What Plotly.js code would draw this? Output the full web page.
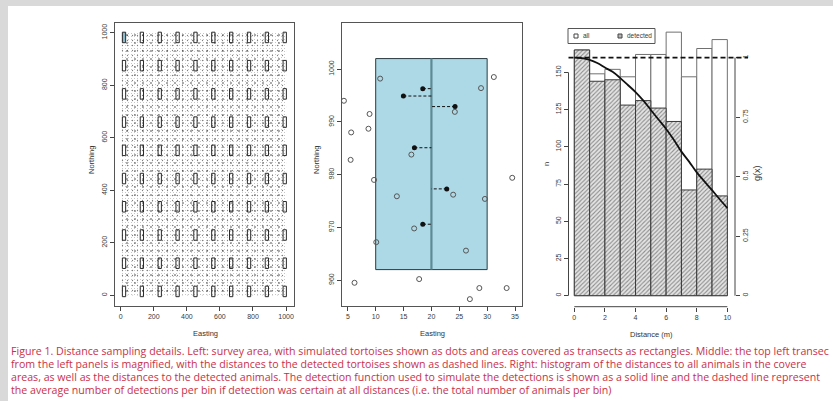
<!DOCTYPE html>
<html>
<head>
<meta charset="utf-8">
<script src="https://cdn.plot.ly/plotly-3.0.1.min.js"></script>
<style>
  html, body { margin: 0; padding: 0; background: #d9d9d9; }
  #chart { width: 833px; height: 401px; }
</style>
</head>
<body>
<div id="chart"></div>
<script>
// ---- Left panel: survey area with the grid of transects ----
const surveyX = [0, 1000];
const surveyY = [0, 1000];
const transectCentreX = [20, 128, 236, 344, 452, 560, 668, 776, 884, 992];
const transectCentreY = [982, 874.5, 767, 659.5, 552, 444.5, 337, 229.5, 122, 14.5];
const transectWidth = 20;
const transectHeight = 40;
const surveyTicks = [0, 200, 400, 600, 800, 1000];

// ---- Middle panel: the top left transect, magnified ----
const closeUpX = [10, 30];
const closeUpY = [962, 1002];
const centreLineX = 20;
const animalX = [10.8, 31.2, 28.9, 4.3, 24.2, 8.9, 8.7, 5.6, 16.4, 5.5, 9.7, 34.5, 23.9, 13.8, 29.6, 16.9, 10.1, 26.2, 6.2, 17.8, 28.6, 33.5, 26.9];
const animalY = [998.2, 998.5, 996.4, 994.0, 991.9, 991.5, 988.7, 988.0, 983.8, 982.8, 979.0, 979.4, 976.2, 975.9, 975.4, 969.8, 967.2, 965.6, 959.5, 960.2, 958.5, 958.5, 956.4];
const detectedX = [18.45, 14.97, 24.24, 16.95, 22.75, 18.45];
const detectedY = [996.3, 994.9, 992.9, 985.1, 977.3, 970.6];
const closeUpXTicks = [5, 10, 15, 20, 25, 30, 35];
const closeUpYTicks = [960, 970, 980, 990, 1000];

// ---- Right panel: distance histogram and detection function ----
const binLeft = [0, 1, 2, 3, 4, 5, 6, 7, 8, 9];
const binWidth = 1;
const allCounts = [165, 149, 152, 147, 162, 162, 177, 147, 166, 172];
const detectedCounts = [165, 144, 145, 128, 131, 126, 117, 71, 85, 67];
const gDistance = [0, 0.5, 1, 1.5, 2, 2.5, 3, 3.5, 4, 4.5, 5, 5.5, 6, 6.5, 7, 7.5, 8, 8.5, 9, 9.5, 10];
const gValue = [1.0, 0.998, 0.99, 0.977, 0.958, 0.94, 0.914, 0.885, 0.855, 0.82, 0.78, 0.74, 0.70, 0.655, 0.605, 0.563, 0.518, 0.48, 0.443, 0.405, 0.368];
const distanceTicks = [0, 2, 4, 6, 8, 10];
const countTicks = [0, 25, 50, 75, 100, 125, 150];
const gTicks = [0, 0.25, 0.5, 0.75, 1];
const gTickText = ['0', '0.25', '0.5', '0.75', '1'];

// caption, as far as it shows on the page
const caption = [
  'Figure 1. Distance sampling details. Left: survey area, with simulated tortoises shown as dots and areas covered as transects as rectangles. Middle: the top left transec',
  'from the left panels is magnified, with the distances to the detected tortoises shown as dashed lines. Right: histogram of the distances to all animals in the covere',
  'areas, as well as the distances to the detected animals. The detection function used to simulate the detections is shown as a solid line and the dashed line represent',
  'the average number of detections per bin if detection was certain at all distances (i.e. the total number of animals per bin)'
];

// pixel helpers for layout placement
const W = 833, H = 401;
const px = v => v / W;
const py = v => 1 - v / H;

const axisFont = { family: 'Liberation Sans, Arial, sans-serif', size: 7, color: '#3a3a3a' };
const legendFont = { family: 'Liberation Sans, Arial, sans-serif', size: 6.5, color: '#3a3a3a' };
const titleFont = { family: 'Liberation Sans, Arial, sans-serif', size: 7.5, color: '#333' };
const inkGrey = '#555';

const meanCount = allCounts.reduce((a, b) => a + b, 0) / allCounts.length;
const countRange = [-7.4, 183.8];

// traces
const traces = [];

// simulated tortoises: a speckled fill over the survey area
const areaMid = (surveyX[0] + surveyX[1]) / 2;
const areaW = surveyX[1] - surveyX[0];
[
  { size: 3, solidity: 0.1, fg: '#b8b8b8' },
  { size: 5, solidity: 0.05, fg: '#808080' },
  { size: 8, solidity: 0.03, fg: '#333333' }
].forEach(p => {
  traces.push({
    type: 'bar', xaxis: 'x', yaxis: 'y', x: [areaMid], y: [surveyY[1] - surveyY[0]], base: [surveyY[0]], width: [areaW],
    marker: { color: 'rgba(0,0,0,0)', line: { width: 0 },
      pattern: { shape: '.', size: p.size, solidity: p.solidity, fgcolor: p.fg, bgcolor: 'rgba(0,0,0,0)', fillmode: 'replace' } },
    hoverinfo: 'skip', showlegend: false
  });
});

// magnified transect: distances of detected animals to the line
const dashX = [], dashY = [];
detectedX.forEach((x, i) => { dashX.push(x, centreLineX, null); dashY.push(detectedY[i], detectedY[i], null); });
traces.push({
  type: 'scatter', mode: 'lines', xaxis: 'x2', yaxis: 'y2', x: dashX, y: dashY,
  line: { color: '#111', width: 1, dash: '3px,2px' }, hoverinfo: 'skip', showlegend: false
});
traces.push({
  type: 'scatter', mode: 'markers', xaxis: 'x2', yaxis: 'y2', x: animalX, y: animalY,
  marker: { symbol: 'circle-open', size: 5, color: '#555', line: { width: 1 } }, cliponaxis: false,
  showlegend: false
});
traces.push({
  type: 'scatter', mode: 'markers', xaxis: 'x2', yaxis: 'y2', x: detectedX, y: detectedY,
  marker: { symbol: 'circle', size: 5, color: '#111' }, showlegend: false
});

// histogram of distances
const binMid = binLeft.map(b => b + binWidth / 2);
traces.push({
  type: 'bar', name: 'all', xaxis: 'x3', yaxis: 'y3', x: binMid, y: allCounts, width: binLeft.map(() => binWidth),
  marker: { color: '#ffffff', line: { color: '#707070', width: 1 } }, showlegend: false
});
traces.push({
  type: 'bar', name: 'detected', xaxis: 'x3', yaxis: 'y3', x: binMid, y: detectedCounts, width: binLeft.map(() => binWidth),
  marker: { color: '#d8d8d8', line: { color: '#3a3a3a', width: 1 },
    pattern: { shape: '/', size: 3, solidity: 0.35, fgcolor: '#8c8c8c', bgcolor: '#e4e4e4', fillmode: 'replace' } },
  showlegend: false
});
// detection function
traces.push({
  type: 'scatter', mode: 'lines', xaxis: 'x3', yaxis: 'y4', x: gDistance, y: gValue,
  line: { color: '#111', width: 1.8, shape: 'spline' }, showlegend: false
});

// shapes
const shapes = [];
// page
shapes.push({ type: 'rect', xref: 'paper', yref: 'paper', x0: px(8), x1: 1, y0: 0, y1: py(6), fillcolor: '#ffffff', line: { width: 0 }, layer: 'below' });
// transects in the survey area
transectCentreY.forEach((cy, r) => {
  transectCentreX.forEach((cx, c) => {
    shapes.push({
      type: 'rect', xref: 'x', yref: 'y',
      x0: cx - transectWidth / 2, x1: cx + transectWidth / 2,
      y0: cy - transectHeight / 2, y1: cy + transectHeight / 2,
      fillcolor: (r === 0 && c === 0) ? 'rgba(120,175,195,0.85)' : 'rgba(0,0,0,0)',
      line: { color: '#2a2a2a', width: 1 }, layer: 'above'
    });
  });
});
// magnified transect
shapes.push({ type: 'rect', xref: 'x2', yref: 'y2', x0: closeUpX[0], x1: closeUpX[1], y0: closeUpY[0], y1: closeUpY[1],
  fillcolor: '#add8e6', line: { color: '#2b3b40', width: 1 }, layer: 'below' });
shapes.push({ type: 'line', xref: 'x2', yref: 'y2', x0: centreLineX, x1: centreLineX, y0: closeUpY[0], y1: closeUpY[1],
  line: { color: '#5d8a95', width: 2.2 }, layer: 'below' });
// histogram axes (R style, spanning the tick range)
shapes.push({ type: 'line', xref: 'x3', yref: 'y3 domain', x0: distanceTicks[0], x1: distanceTicks[distanceTicks.length - 1], y0: 0, y1: 0, line: { color: '#444', width: 1 } });
shapes.push({ type: 'line', xref: 'x3 domain', yref: 'y3', x0: 0, x1: 0, y0: countTicks[0], y1: countTicks[countTicks.length - 1], line: { color: '#444', width: 1 } });
shapes.push({ type: 'line', xref: 'paper', yref: 'y4', x0: px(735), x1: px(735), y0: gTicks[0], y1: gTicks[gTicks.length - 1], line: { color: '#444', width: 1 } });
// certain-detection level
shapes.push({ type: 'line', xref: 'x3 domain', yref: 'y3', x0: 0, x1: 1, y0: meanCount, y1: meanCount, line: { color: '#111', width: 1.8, dash: '5px,3px' } });
// legend box
shapes.push({ type: 'rect', xref: 'paper', yref: 'paper', x0: px(568), x1: px(655), y0: py(43.5), y1: py(28.5), fillcolor: '#fff', line: { color: '#555', width: 1 } });
shapes.push({ type: 'rect', xref: 'paper', yref: 'paper', x0: px(574), x1: px(578), y0: py(38), y1: py(34), fillcolor: '#fff', line: { color: '#444', width: 1 } });
shapes.push({ type: 'rect', xref: 'paper', yref: 'paper', x0: px(618), x1: px(622), y0: py(38), y1: py(34), fillcolor: '#b5b5b5', line: { color: '#444', width: 1 } });

// annotations
const ann = [];
function label(text, x, y, angle, font) {
  ann.push({ text, xref: 'paper', yref: 'paper', x: px(x), y: py(y), showarrow: false, textangle: angle || 0,
    xanchor: 'center', yanchor: 'middle', font: font || titleFont });
}
label('Easting', 205, 333);
label('Northing', 91, 160, -90);
label('Easting', 432, 333);
label('Northing', 316, 160, -90);
label('Distance (m)', 651, 334);
label('n', 546, 164, -90);
label('g(x)', 757, 173, -90, { family: titleFont.family, size: 9, color: '#333' });
ann.push({ text: 'all', xref: 'paper', yref: 'paper', x: px(581), y: py(36), showarrow: false, xanchor: 'left', yanchor: 'middle', font: legendFont });
ann.push({ text: 'detected', xref: 'paper', yref: 'paper', x: px(625), y: py(36), showarrow: false, xanchor: 'left', yanchor: 'middle', font: legendFont });
const captionY = [351, 363.9, 376.8, 389.7];
caption.forEach((line, i) => {
  ann.push({ text: line, xref: 'paper', yref: 'paper', x: px(10), y: py(captionY[i]), showarrow: false,
    xanchor: 'left', yanchor: 'middle', align: 'left', borderpad: 0,
    font: { family: 'Open Sans, Lato, sans-serif', size: 10.62, color: '#c93049' } });
});

const baseAxis = {
  showgrid: false, zeroline: false, ticks: 'outside', ticklen: 4, tickwidth: 1, tickcolor: '#444',
  tickfont: axisFont, fixedrange: true
};

const layout = {
  width: W, height: H,
  margin: { l: 0, r: 0, t: 0, b: 0 },
  paper_bgcolor: '#d9d9d9', plot_bgcolor: 'rgba(0,0,0,0)',
  barmode: 'overlay', showlegend: false,
  xaxis: Object.assign({}, baseAxis, { domain: [px(115), px(294)], range: [-34.5, 1048], tickvals: surveyTicks,
    showline: true, mirror: true, linecolor: inkGrey, linewidth: 1, anchor: 'y' }),
  yaxis: Object.assign({}, baseAxis, { domain: [py(306), py(23)], range: [-41, 1037], tickvals: surveyTicks,
    tickangle: -90, showline: true, mirror: true, linecolor: inkGrey, linewidth: 1, anchor: 'x' }),
  xaxis2: Object.assign({}, baseAxis, { domain: [px(341.7), px(521.7)], range: [3.9, 36.2], tickvals: closeUpXTicks,
    showline: true, mirror: true, linecolor: inkGrey, linewidth: 1, anchor: 'y2' }),
  yaxis2: Object.assign({}, baseAxis, { domain: [py(306), py(22.7)], range: [955.1, 1008.8], tickvals: closeUpYTicks,
    tickangle: -90, showline: true, mirror: true, linecolor: inkGrey, linewidth: 1, anchor: 'x2' }),
  xaxis3: Object.assign({}, baseAxis, { domain: [px(568.5), px(748)], range: [-0.38, 11.35], tickvals: distanceTicks,
    showline: false, anchor: 'y3' }),
  yaxis3: Object.assign({}, baseAxis, { domain: [py(306.7), py(22)], range: countRange, tickvals: countTicks,
    tickangle: -90, showline: false, anchor: 'x3' }),
  yaxis4: Object.assign({}, baseAxis, { overlaying: 'y3', side: 'right', anchor: 'free', position: px(735),
    range: countRange.map(v => v / meanCount), tickvals: gTicks, ticktext: gTickText, tickangle: -90, showline: false }),
  shapes: shapes,
  annotations: ann
};

Plotly.newPlot('chart', traces, layout, { staticPlot: true, displayModeBar: false });
</script>
</body>
</html>
